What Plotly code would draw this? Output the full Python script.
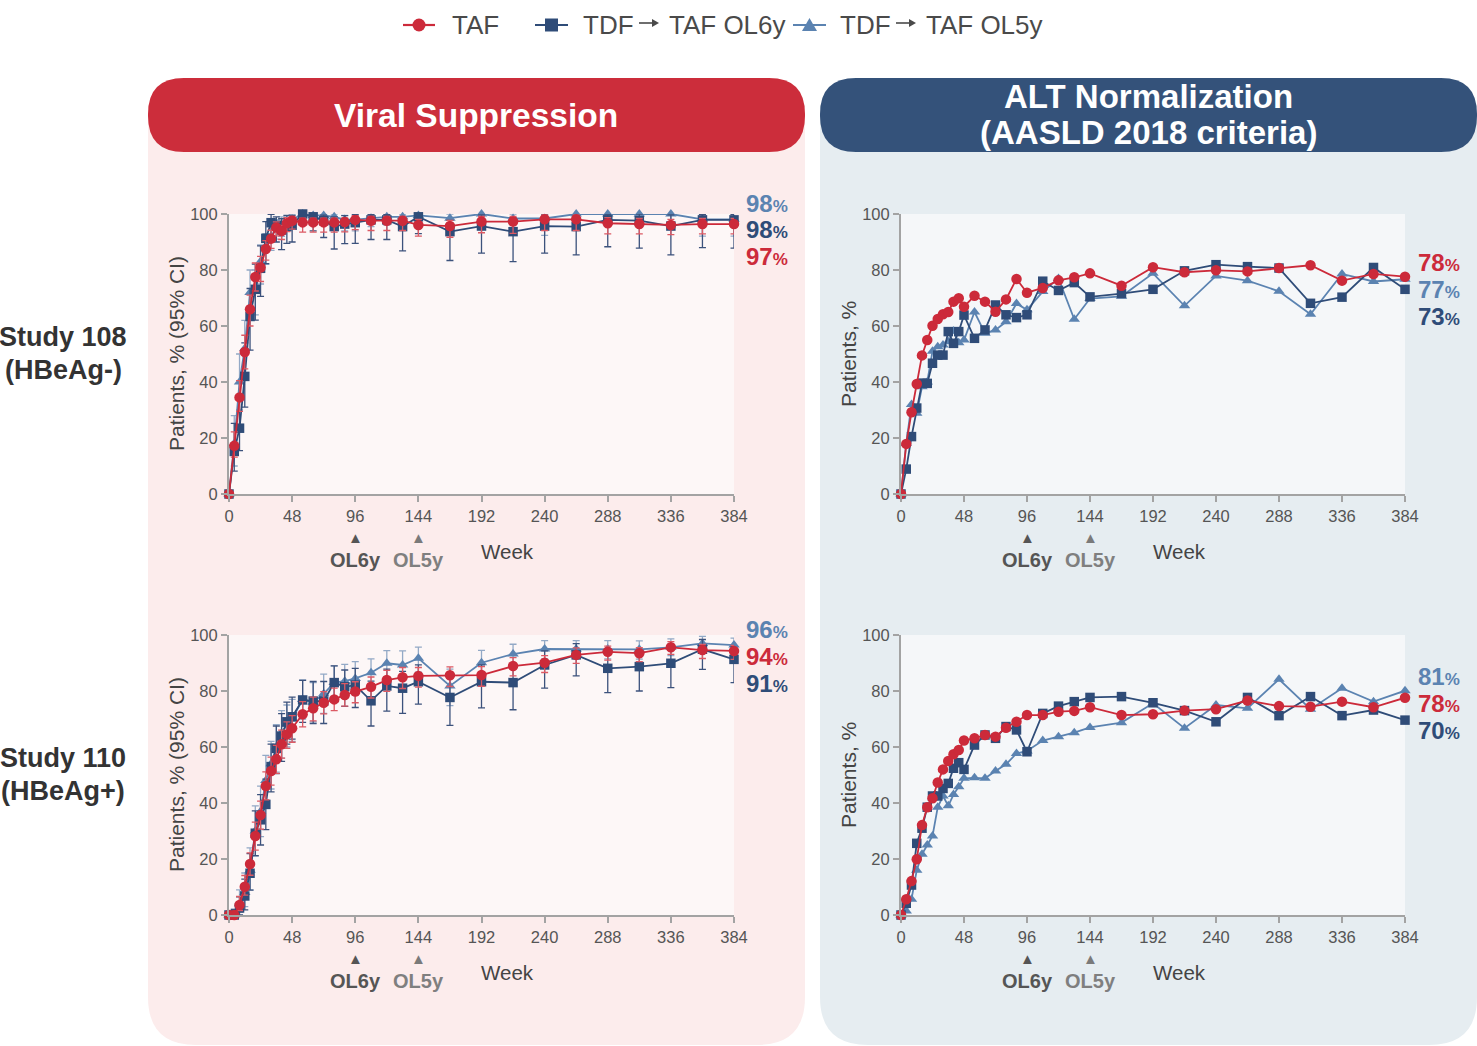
import plotly.graph_objects as go

W, H = 1477, 1046

# ---------------- data ----------------
weeks = [0, 4, 8, 12, 16, 20, 24, 28, 32, 36, 40, 44, 48, 56, 64, 72, 80, 88, 96,
         108, 120, 132, 144, 168, 192, 216, 240, 264, 288, 312, 336, 360, 384]
x_ticks = [0, 48, 96, 144, 192, 240, 288, 336, 384]
y_ticks = [0, 20, 40, 60, 80, 100]

name_taf = "TAF"
name_ol6 = "TDF → TAF OL6y"
name_ol5 = "TDF → TAF OL5y"

# Study 108 - viral suppression
vs108_taf = [0, 17.2, 34.5, 50.7, 66, 77.5, 80.9, 87.5, 91.2, 95.2, 93.9, 96.7, 97.6, 97, 97, 97, 97, 97.1, 97.9,
             97.6, 97.6, 97.6, 96.1, 95.7, 97.3, 97.3, 98.1, 98.1, 96.7, 96.4, 96.1, 96.4, 96.4]
vs108_taf_lo = [0, 4, 5, 6, 6, 5, 5, 4, 3.5, 3, 3, 3, 3, 3.5, 3.5, 3.5, 3.5, 3.5, 3.5,
                3.5, 3.5, 3.5, 4, 4, 4, 4.2, 4, 4, 3.8, 3.5, 3.5, 3.5, 3.5]
vs108_taf_hi = [0, 5, 6, 6, 5, 5, 4, 3, 3, 2, 2, 2, 1.5, 1.5, 1.5, 1.5, 1.5, 1.5, 1.5,
                1.5, 1.5, 1.5, 2, 2, 1.8, 1.8, 1.5, 1.5, 2, 2, 2, 2, 2]
vs108_ol6 = [0, 15.2, 23.5, 42, 63.4, 73.1, 80.6, 91.3, 96.9, 96, 94.3, 95.5, 96, 100, 99, 97.6, 95.5, 96.4, 96.9,
             97.9, 97.9, 95.5, 99, 93.7, 95.7, 93.7, 95.7, 95.5, 97.9, 97.6, 95.7, 97.9, 97.9]
vs108_ol6_lo = [0, 7, 8, 11, 12, 11, 10, 9, 6, 6, 7, 6, 6, 4, 5, 6, 8, 7, 7.4,
                7, 7, 8.7, 6, 10.3, 9.7, 10.7, 9.7, 10.1, 9.6, 9.8, 10.3, 9.9, 10.1]
vs108_ol6_hi = [0, 10, 10, 12, 10, 9, 8, 6, 3, 3, 4, 4, 3.5, 0, 1, 2, 3.5, 3, 3,
                2, 2, 3.5, 1, 4, 4, 5, 4, 4, 2, 2.4, 4, 2, 2]
vs108_ol5 = [0, 18, 40, 52, 72, 73, 83, 88, 92, 95, 96, 97, 98, 100, 99.5, 99.5, 99, 98, 98,
             98.5, 99, 99, 99.5, 98.5, 100, 98.4, 98.4, 100, 100, 100, 100, 98.1, 98.1]
vs108_ol5_lo = [0, 8, 10, 10, 9, 9, 8, 6, 5, 4, 4, 3, 3, 2, 3, 3, 3, 4, 4,
                3, 3, 3, 3, 4, 3, 4, 6, 3, 3, 3, 3, 6, 6]
vs108_ol5_hi = [0, 10, 10, 10, 8, 7, 6, 5, 4, 3, 3, 2, 2, 0, 0.5, 0.5, 1, 1.5, 1.5,
                1.5, 1, 1, 0.5, 1.5, 0, 1.6, 1.6, 0, 0, 0, 0, 1.9, 1.9]

# Study 110 - viral suppression
vs110_taf = [0, 0, 3.6, 10.1, 18.2, 28.2, 35.7, 46.1, 51.4, 55.6, 61, 64.5, 66.7, 71.7, 73.8, 75.8, 77, 78.6, 79.8,
             81.5, 83.9, 84.9, 85.4, 85.6, 85.7, 88.9, 90.1, 92.9, 94, 93.5, 95.6, 94.6, 94.3]
vs110_taf_lo = [0, 0, 2, 3, 4, 5, 5, 5, 5, 5, 5, 5, 5, 4.5, 4.5, 4, 4, 4, 4,
                4, 4, 4, 4, 4, 4, 3.5, 3.5, 3, 3, 3, 2.5, 3, 3]
vs110_taf_hi = [0, 1, 3, 4, 4, 5, 5, 5, 5, 5, 5, 4.5, 4.5, 4.5, 4, 4, 4, 4, 3.5,
                3.5, 3.5, 3.5, 3, 3, 3, 3, 2.5, 2.5, 2, 2, 2, 2, 2]
vs110_ol6 = [0, 0, 2.5, 6.8, 14.9, 29.2, 34, 39.5, 53, 59.5, 63.9, 69, 70.8, 76.8, 76.4, 76.4, 83, 81.5, 82.1,
             76.5, 81.8, 81, 83.3, 77.7, 83.3, 83, 89.3, 92.9, 88.1, 88.7, 89.9, 94.9, 91.3]
vs110_ol6_lo = [0, 0, 2.5, 5, 6, 8, 9, 9, 9, 9, 9, 8, 8, 8, 8, 8, 7, 7, 8,
                9, 9, 9, 8, 10, 9.3, 9.7, 8.3, 7.5, 8.7, 8.7, 8.7, 7.2, 8.3]
vs110_ol6_hi = [0, 2, 4, 6, 7, 8, 9, 9, 8, 8, 8, 7, 7, 7, 7, 7, 6, 6, 6,
                7, 6, 6, 6, 7, 6, 6, 5, 4, 5, 5, 5, 3.5, 4.5]
vs110_ol5 = [0, 0, 4, 8, 16, 30, 37, 48, 54, 60, 65, 68, 70, 77, 76, 79, 83, 83.5, 84.5,
             86.5, 89.9, 89.3, 91.7, 81.8, 90.1, 93.2, 95, 95, 95, 94.9, 95.6, 97, 96.4]
vs110_ol5_lo = [0, 0, 3, 5, 7, 9, 9, 9, 9, 9, 9, 8, 8, 7, 7, 7, 6, 6, 6,
                6, 5, 5, 5, 7, 5, 4, 3.5, 3.5, 3.5, 3.5, 3, 2.5, 3]
vs110_ol5_hi = [0, 2, 5, 7, 8, 9, 9, 9, 8, 8, 8, 7, 7, 7, 7, 7, 6, 6, 6,
                5, 4.5, 5, 4, 6, 4.4, 3.5, 3, 3, 3, 3, 3, 2.5, 2.5]

# Study 108 - ALT normalization
alt108_taf = [0, 17.9, 29.2, 39.3, 49.5, 55, 60.1, 62.5, 64.2, 65, 68.7, 69.9, 66.9, 70.8, 68.7, 65.1, 69.5, 76.8, 71.9,
              73.6, 76.3, 77.4, 78.8, 74.4, 81, 79.2, 79.9, 79.5, 80.7, 81.7, 76.2, 78.6, 77.6]
alt108_ol6 = [0, 8.9, 20.5, 30.7, 39.6, 39.5, 46.7, 49.6, 49.6, 58, 53.8, 58, 63.9, 55.6, 58.6, 67.5, 64, 63, 64,
              76, 72.7, 75.5, 70.4, 71.6, 73.1, 79.7, 81.9, 81.2, 80.7, 68.1, 70.3, 80.9, 73.1]
alt108_ol5 = [0, 18, 32, 28.8, 38.3, 40, 51, 52.6, 53.2, 54.4, 58.2, 54, 55, 65, 57.4, 58.6, 61.5, 68, 65.8,
              72.3, 77, 62.4, 69.8, 70.6, 78.8, 67.2, 77.9, 76.2, 72.4, 64.2, 78.6, 75.9, 76.7]

# Study 110 - ALT normalization
alt110_taf = [0, 5.6, 12.1, 19.9, 32.1, 38.5, 41.7, 47.3, 52, 55, 57.4, 58.9, 62.3, 63.1, 64.3, 63.7, 66.9, 69, 71.4,
              71.4, 72.6, 72.9, 74.2, 71.4, 71.7, 73, 73.5, 76.6, 74.6, 74.4, 76.2, 74.2, 77.6]
alt110_ol6 = [0, 4.2, 10.7, 25.6, 31, 38.5, 42.5, 42.5, 45.2, 47, 52.4, 54.4, 52, 60.7, 64.3, 63.1, 67.3, 66.1, 58.3,
              72, 74.6, 76.2, 77.7, 78, 75.8, 73, 69, 77.7, 71.2, 78, 71.2, 73.2, 69.6]
alt110_ol5 = [0, 1.4, 5.6, 16, 21.7, 25, 28.2, 38.5, 42.5, 39, 43, 45.8, 48.8, 49, 48.8, 51.4, 53.8, 57.7, 58.6,
              62.3, 63.7, 65.1, 67, 68.7, 75.6, 66.7, 75, 73.8, 84.2, 73.5, 81, 76.2, 80.1]

# end-of-study labels (label text, series key)
end_vs108 = [("98", "ol5"), ("98", "ol6"), ("97", "taf")]
end_alt108 = [("78", "taf"), ("77", "ol5"), ("73", "ol6")]
end_vs110 = [("96", "ol5"), ("94", "taf"), ("91", "ol6")]
end_alt110 = [("81", "ol5"), ("78", "taf"), ("70", "ol6")]

# ---------------- style ----------------
C = {"taf": "#cc2a3a", "ol6": "#2f4c78", "ol5": "#5b83b1"}
EC = {"taf": "#dc5a64", "ol6": "#3c527c", "ol5": "#93a9c6"}
SYM = {"taf": "circle", "ol6": "square", "ol5": "triangle-up"}
MSZ = {"taf": 10.5, "ol6": 9.5, "ol5": 10}
NAMES = {"taf": name_taf, "ol6": name_ol6, "ol5": name_ol5}
FONT = "Liberation Sans, Arial, Helvetica, sans-serif"
LEG_COL = "#4a4a4a"


def px(x):
    return x / W


def py(y):
    return 1 - y / H


fig = go.Figure()

panels = [
    ("", {"ol5": (vs108_ol5, vs108_ol5_lo, vs108_ol5_hi),
          "ol6": (vs108_ol6, vs108_ol6_lo, vs108_ol6_hi),
          "taf": (vs108_taf, vs108_taf_lo, vs108_taf_hi)}),
    ("2", {"ol5": (alt108_ol5, None, None), "ol6": (alt108_ol6, None, None), "taf": (alt108_taf, None, None)}),
    ("3", {"ol5": (vs110_ol5, vs110_ol5_lo, vs110_ol5_hi),
           "ol6": (vs110_ol6, vs110_ol6_lo, vs110_ol6_hi),
           "taf": (vs110_taf, vs110_taf_lo, vs110_taf_hi)}),
    ("4", {"ol5": (alt110_ol5, None, None), "ol6": (alt110_ol6, None, None), "taf": (alt110_taf, None, None)}),
]

for i, (sfx, series) in enumerate(panels):
    for key in ["ol5", "ol6", "taf"]:
        vals, lo, hi = series[key]
        err = None
        if lo is not None:
            err = dict(type="data", symmetric=False, array=hi, arrayminus=lo,
                       color=EC[key], thickness=1.3, width=3.5)
        fig.add_trace(go.Scatter(
            x=weeks, y=vals, mode="lines+markers", name=NAMES[key],
            xaxis="x" + sfx, yaxis="y" + sfx,
            line=dict(color=C[key], width=1.8),
            marker=dict(symbol=SYM[key], size=MSZ[key], color=C[key]),
            error_y=err, cliponaxis=False, showlegend=False,
        ))

# ---------------- layout ----------------
xdom_l = [px(229), px(734)]
xdom_r = [px(901), px(1405)]
ydom_t = [py(494), py(214)]
ydom_b = [py(915), py(635)]

axis_common = dict(showgrid=False, zeroline=False, showline=True, linecolor="#a3a3a3", linewidth=2,
                   ticks="outside", ticklen=6, tickwidth=1.5, tickcolor="#a3a3a3", automargin=False,
                   tickfont=dict(family=FONT, size=16.5, color="#555555"), fixedrange=True)

layout = dict(
    width=W, height=H, margin=dict(l=0, r=0, t=0, b=0, pad=0, autoexpand=False), autosize=False,
    paper_bgcolor="white", plot_bgcolor="rgba(0,0,0,0)",
    font=dict(family=FONT, color="#444444"), showlegend=False,
)
for sfx, xd, yd in [("", xdom_l, ydom_t), ("2", xdom_r, ydom_t), ("3", xdom_l, ydom_b), ("4", xdom_r, ydom_b)]:
    layout["xaxis" + sfx] = dict(axis_common, domain=xd, range=[0, 384], tickvals=x_ticks, anchor="y" + sfx)
    layout["yaxis" + sfx] = dict(axis_common, domain=yd, range=[0, 100], tickvals=y_ticks, anchor="x" + sfx)
fig.update_layout(**layout)


# ---------------- background shapes ----------------
def rrect(x0, y0, x1, y1, r, rb=None):
    rb = r if rb is None else rb
    pts = [
        f"M {px(x0 + r)} {py(y0)}",
        f"L {px(x1 - r)} {py(y0)}",
        f"Q {px(x1)} {py(y0)} {px(x1)} {py(y0 + r)}",
        f"L {px(x1)} {py(y1 - rb)}",
        f"Q {px(x1)} {py(y1)} {px(x1 - rb)} {py(y1)}",
        f"L {px(x0 + rb)} {py(y1)}",
        f"Q {px(x0)} {py(y1)} {px(x0)} {py(y1 - rb)}",
        f"L {px(x0)} {py(y0 + r)}",
        f"Q {px(x0)} {py(y0)} {px(x0 + r)} {py(y0)}",
        "Z",
    ]
    return " ".join(pts)


shapes = [
    dict(type="path", path=rrect(148, 78, 805, 1045, 40, 48), xref="paper", yref="paper",
         fillcolor="#fcecec", line=dict(width=0), layer="below"),
    dict(type="path", path=rrect(820, 78, 1477, 1045, 40, 48), xref="paper", yref="paper",
         fillcolor="#e6edf1", line=dict(width=0), layer="below"),
    dict(type="path", path=rrect(148, 78, 805, 152, 36), xref="paper", yref="paper",
         fillcolor="#cc2d3b", line=dict(width=0), layer="below"),
    dict(type="path", path=rrect(820, 78, 1477, 152, 36), xref="paper", yref="paper",
         fillcolor="#34527a", line=dict(width=0), layer="below"),
]
for sfx, col in [("", "#fdf7f7"), ("2", "#f5f7f9"), ("3", "#fdf7f7"), ("4", "#f5f7f9")]:
    shapes.append(dict(type="rect", xref=("x" + sfx) + " domain", yref=("y" + sfx) + " domain",
                       x0=0, x1=1, y0=0, y1=1, fillcolor=col, line=dict(width=0), layer="below"))

# manual legend (line + marker glyph + label); label parts around the arrow
# (key, line x0, line x1, first text x, arrow x0, arrow x1, second text x)
legend_items = [("taf", 403, 435, 450, None, None, None),
                ("ol6", 535, 568, 581, 639, 659, 667),
                ("ol5", 793, 826, 838, 896, 916, 924)]
LY = 25
for key, lx0, lx1, tx, ax0, ax1, tx2 in legend_items:
    shapes.append(dict(type="line", xref="paper", yref="paper", x0=px(lx0), x1=px(lx1), y0=py(LY), y1=py(LY),
                       line=dict(color=C[key], width=2.2)))
    cx = (lx0 + lx1) / 2
    if key == "taf":
        shapes.append(dict(type="circle", xref="paper", yref="paper", x0=px(cx - 6.5), x1=px(cx + 6.5),
                           y0=py(LY + 6.5), y1=py(LY - 6.5), fillcolor=C[key], line=dict(width=0)))
    elif key == "ol6":
        shapes.append(dict(type="rect", xref="paper", yref="paper", x0=px(cx - 6.5), x1=px(cx + 6.5),
                           y0=py(LY + 6.5), y1=py(LY - 6.5), fillcolor=C[key], line=dict(width=0)))
    else:
        shapes.append(dict(type="path", xref="paper", yref="paper",
                           path=f"M {px(cx - 7.5)} {py(LY + 6)} L {px(cx + 7.5)} {py(LY + 6)} "
                                f"L {px(cx)} {py(LY - 7)} Z",
                           fillcolor=C[key], line=dict(width=0)))
    if ax0 is not None:
        ay = LY - 2
        shapes.append(dict(type="line", xref="paper", yref="paper", x0=px(ax0), x1=px(ax1 - 5),
                           y0=py(ay), y1=py(ay), line=dict(color=LEG_COL, width=1.6)))
        shapes.append(dict(type="path", xref="paper", yref="paper",
                           path=f"M {px(ax1 - 7)} {py(ay - 4)} L {px(ax1)} {py(ay)} L {px(ax1 - 7)} {py(ay + 4)} Z",
                           fillcolor=LEG_COL, line=dict(width=0)))
fig.update_layout(shapes=shapes)

# ---------------- annotations ----------------
ann = []


def txt(x, y, text, size, color="#444444", angle=0, xanchor="center", bold=False):
    ann.append(dict(x=px(x), y=py(y), xref="paper", yref="paper", text=f"<b>{text}</b>" if bold else text,
                    showarrow=False, xanchor=xanchor, yanchor="middle", textangle=angle,
                    font=dict(family=FONT, size=size, color=color)))


# legend labels (arrow drawn as a shape between the two parts)
for key, lx0, lx1, tx, ax0, ax1, tx2 in legend_items:
    parts = [p.strip() for p in NAMES[key].split("→")]
    txt(tx, LY, parts[0], 26, LEG_COL, xanchor="left")
    if len(parts) > 1:
        txt(tx2, LY, parts[1], 26, LEG_COL, xanchor="left")

# headers
txt(476, 115, "Viral Suppression", 33.5, "white", bold=True)
txt(1148, 97, "ALT Normalization", 33, "white", bold=True)
txt(1148, 133, "(AASLD 2018 criteria)", 33, "white", bold=True)

# row labels
txt(63, 337, "Study 108", 27, "#333333", bold=True)
txt(63, 370, "(HBeAg-)", 27, "#333333", bold=True)
txt(63, 758, "Study 110", 27, "#333333", bold=True)
txt(63, 791, "(HBeAg+)", 27, "#333333", bold=True)

# y titles
for (xx, yy, t) in [(176, 354, "Patients, % (95% CI)"), (176, 775, "Patients, % (95% CI)"),
                    (848, 354, "Patients, %"), (848, 775, "Patients, %")]:
    txt(xx, yy, t, 21, "#444444", angle=-90)

# week + open-label markers
for x_off, y_off in [(0, 0), (672, 0), (0, 421), (672, 421)]:
    txt(507 + x_off, 551 + y_off, "Week", 20.5, "#444444")
    txt(355 + x_off, 537 + y_off, "▲", 15, "#555555")
    txt(418 + x_off, 537 + y_off, "▲", 15, "#7a7a7a")
    txt(355 + x_off, 560 + y_off, "OL6y", 20, "#555555", bold=True)
    txt(418 + x_off, 560 + y_off, "OL5y", 20, "#7f7f7f", bold=True)

# end labels
for labels, x0, ys in [(end_vs108, 744, [203, 229, 256]), (end_alt108, 1416, [262, 289, 316]),
                       (end_vs110, 744, [629, 656, 683]), (end_alt110, 1416, [676, 703, 730])]:
    for (val, key), yy in zip(labels, ys):
        txt(x0, yy, f"<b>{val}</b><span style='font-size:17px'><b>%</b></span>", 24, C[key], xanchor="left")

fig.update_layout(annotations=ann)

post = """
document.documentElement.style.margin='0';
document.documentElement.style.overflow='hidden';
document.body.style.margin='0';
document.body.style.overflow='hidden';
var gd = document.getElementById('{plot_id}');
gd.style.position='absolute'; gd.style.left='0px'; gd.style.top='0px';
"""
fig.write_html("out.html", post_script=post)
